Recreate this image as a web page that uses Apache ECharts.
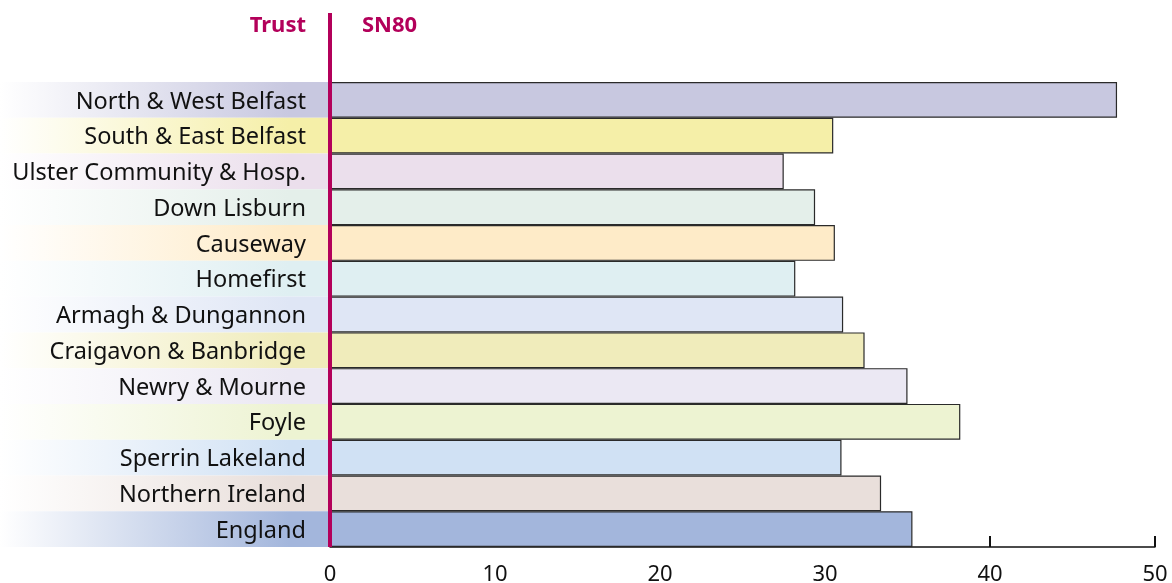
<!DOCTYPE html>
<html>
<head>
<meta charset="utf-8">
<script src="https://cdn.jsdelivr.net/npm/echarts@6/dist/echarts.min.js"></script>
<style>
html, body { margin: 0; padding: 0; background: #fff; }
#box { width: 1172px; height: 583px; }
</style>
</head>
<body>
<div id="box"></div>
<script>
// trusts, top to bottom
var trusts = ['North & West Belfast', 'South & East Belfast', 'Ulster Community & Hosp.', 'Down Lisburn',
    'Causeway', 'Homefirst', 'Armagh & Dungannon', 'Craigavon & Banbridge', 'Newry & Mourne',
    'Foyle', 'Sperrin Lakeland', 'Northern Ireland', 'England'];
var sn80 = [47.7, 30.5, 27.5, 29.4, 30.6, 28.2, 31.1, 32.4, 35.0, 38.2, 31.0, 33.4, 35.3];
var rowColors = ['#c8c8e0', '#f5efa8', '#ebdfec', '#e4efea', '#feebc8', '#dfeff2', '#dfe6f5',
    '#f0ecbb', '#ebe8f3', '#edf3d2', '#d0e1f4', '#e9dfdb', '#a3b6dc'];
var xTicks = [0, 10, 20, 30, 40, 50];

var magenta = '#b3005a';
var font = 'Noto Sans';

var myChart = echarts.init(document.getElementById('box'));

var option = {
    backgroundColor: '#fff',
    animation: false,
    grid: [
        { left: 330, right: 17, top: 82, bottom: 36, outerBoundsMode: 'none' },   // bars
        { left: 0, width: 328, top: 82, bottom: 36, outerBoundsMode: 'none' }     // label bands
    ],
    xAxis: [{
        gridIndex: 0,
        type: 'value',
        min: xTicks[0],
        max: xTicks[xTicks.length - 1],
        interval: 10,
        splitLine: { show: false },
        axisLine: { show: true, lineStyle: { color: '#111', width: 1.5 } },
        axisTick: { show: true, inside: true, length: 11, lineStyle: { color: '#111', width: 2 } },
        axisLabel: { color: '#111', fontSize: 22, fontFamily: font, margin: 17 }
    }, {
        gridIndex: 1,
        type: 'value',
        min: 0,
        max: 1,
        show: false
    }],
    yAxis: [{
        gridIndex: 0,
        type: 'category',
        inverse: true,
        data: trusts,
        axisLine: { show: false },
        axisTick: { show: false },
        axisLabel: { show: false }
    }, {
        gridIndex: 1,
        type: 'category',
        inverse: true,
        data: trusts,
        show: false
    }],
    series: [{
        type: 'bar',
        xAxisIndex: 0,
        yAxisIndex: 0,
        barCategoryGap: 0,
        z: 3,
        data: sn80.map(function (v, i) {
            return {
                value: v,
                itemStyle: { color: rowColors[i], borderColor: '#2a2a2a', borderWidth: 1.2 }
            };
        })
    }, {
        type: 'bar',
        xAxisIndex: 1,
        yAxisIndex: 1,
        barCategoryGap: 0,
        silent: true,
        data: trusts.map(function (name, i) {
            return {
                value: 1,
                itemStyle: {
                    color: new echarts.graphic.LinearGradient(0, 0, 1, 0, [
                        { offset: 0, color: '#ffffff' },
                        { offset: 0.88, color: rowColors[i] },
                        { offset: 1, color: rowColors[i] }
                    ])
                }
            };
        }),
        label: {
            show: true,
            position: 'insideRight',
            distance: 22,
            offset: [0, 2],
            color: '#111',
            fontSize: 23.5,
            fontFamily: font,
            formatter: function (p) { return p.name; }
        }
    }],
    graphic: [{
        type: 'rect',
        shape: { x: 328, y: 13, width: 4, height: 534 },
        style: { fill: magenta },
        z: 100
    }, {
        type: 'text',
        right: 1172 - 306,
        top: 15,
        style: { text: 'Trust', fill: magenta, font: 'bold 22px "Noto Sans"', textAlign: 'right' }
    }, {
        type: 'text',
        left: 362,
        top: 15,
        style: { text: 'SN80', fill: magenta, font: 'bold 22px "Noto Sans"' }
    }]
};

myChart.setOption(option);
</script>
</body>
</html>
